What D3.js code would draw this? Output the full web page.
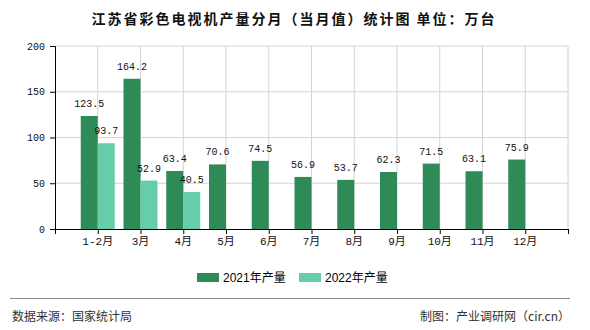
<!DOCTYPE html>
<html><head><meta charset="utf-8">
<script src="https://cdn.jsdelivr.net/npm/d3@7"></script>
<style>body{margin:0;background:#fff;}svg{display:block;}</style>
</head><body>
<svg id="c" width="590" height="330"></svg>
<script>
const categories = ["1-2月","3月","4月","5月","6月","7月","8月","9月","10月","11月","12月"];
const values2021 = [123.5,164.2,63.4,70.6,74.5,56.9,53.7,62.3,71.5,63.1,75.9];
const values2022 = [93.7,52.9,40.5,null,null,null,null,null,null,null,null];
const seriesNames = ["2021年产量","2022年产量"];
const yTicks = [0,50,100,150,200];
const titleText = "江苏省彩色电视机产量分月（当月值）统计图 单位：万台";
const sourceText = "数据来源：国家统计局";
const creditText = "制图：产业调研网（cir.cn）";

const colors = ["#2e8b57","#66cdaa"];
const svg = d3.select("#c");
const L=55,R=568,T=46,B=229;
const x = d3.scaleLinear().domain([0,categories.length+1]).range([L,R]);
const y = d3.scaleLinear().domain([0,200]).range([B,T]);
const bw = 17;
const monoFont = "'Liberation Mono','Noto Sans CJK SC',monospace";

svg.append("text").attr("x",294).attr("y",18).attr("text-anchor","middle").attr("dominant-baseline","central")
  .attr("font-family","'Noto Sans CJK SC',sans-serif").attr("font-size",14).attr("font-weight","bold")
  .attr("letter-spacing",2).attr("fill","#111").text(titleText);

// grid
const pos = d3.range(0,categories.length+2);
svg.append("g").selectAll("line").data(yTicks.filter(d=>d>0)).join("line")
  .attr("x1",L).attr("x2",R).attr("y1",d=>y(d)).attr("y2",d=>y(d)).attr("stroke","#d3d3d3").attr("stroke-width",1);
svg.append("g").selectAll("line").data(pos.slice(1)).join("line")
  .attr("x1",d=>x(d)).attr("x2",d=>x(d)).attr("y1",T).attr("y2",B).attr("stroke","#d3d3d3").attr("stroke-width",1);

// bars
const g = svg.append("g");
g.selectAll("rect.a").data(values2021).join("rect").attr("class","a")
  .attr("x",(d,i)=>x(i+1)-bw).attr("width",bw).attr("y",d=>y(d)).attr("height",d=>B-y(d)).attr("fill",colors[0]);
g.selectAll("rect.b").data(values2022.map((v,i)=>({v,i})).filter(d=>d.v!=null)).join("rect").attr("class","b")
  .attr("x",d=>x(d.i+1)).attr("width",bw).attr("y",d=>y(d.v)).attr("height",d=>B-y(d.v)).attr("fill",colors[1]);

// labels
g.selectAll("text.a").data(values2021).join("text").attr("class","a")
  .attr("x",(d,i)=>x(i+1)-bw/2).attr("y",d=>y(d)-9).attr("text-anchor","middle")
  .attr("font-family",monoFont).attr("font-size",10).attr("fill","#111").text(d=>d.toFixed(1));
g.selectAll("text.b").data(values2022.map((v,i)=>({v,i})).filter(d=>d.v!=null)).join("text").attr("class","b")
  .attr("x",d=>x(d.i+1)+bw/2).attr("y",d=>y(d.v)-9).attr("text-anchor","middle")
  .attr("font-family",monoFont).attr("font-size",10).attr("fill","#111").text(d=>d.v.toFixed(1));

// y axis
const ya = svg.append("g").attr("transform",`translate(${L},0)`)
  .call(d3.axisLeft(y).tickValues(yTicks).tickSize(5).tickPadding(5).tickFormat(d3.format("d")));
ya.select(".domain").attr("stroke","#000");
ya.selectAll(".tick line").attr("stroke","#000");
ya.selectAll("text").attr("font-family",monoFont).attr("font-size",10).attr("fill","#111");

// x axis
const xa = svg.append("g").attr("transform",`translate(0,${B})`)
  .call(d3.axisBottom(x).tickValues(pos).tickSize(5).tickFormat(""));
xa.select(".domain").attr("stroke","#000");
xa.selectAll(".tick line").attr("stroke","#000");
svg.append("g").selectAll("text").data(categories).join("text")
  .attr("x",(d,i)=>x(i+1)).attr("y",242).attr("text-anchor","middle").attr("dominant-baseline","central")
  .attr("font-family",monoFont).attr("font-size",11).attr("fill","#111").text(d=>d);

// legend
const lg = svg.append("g");
const lx=[197,299];
seriesNames.forEach((n,i)=>{
  lg.append("rect").attr("x",lx[i]).attr("y",273).attr("width",22).attr("height",9).attr("fill",colors[i]);
  lg.append("text").attr("x",lx[i]+26).attr("y",277.5).attr("dominant-baseline","central")
    .attr("font-family","'Liberation Sans','Noto Sans CJK SC',sans-serif").attr("font-size",12).attr("fill","#000").text(n);
});

// footer
svg.append("line").attr("x1",10).attr("x2",570).attr("y1",298.5).attr("y2",298.5).attr("stroke","#888").attr("stroke-width",1);
svg.append("text").attr("x",12).attr("y",315).attr("dominant-baseline","central")
  .attr("font-family","'Noto Sans CJK SC',sans-serif").attr("font-size",12).attr("fill","#333").text(sourceText);
svg.append("text").attr("x",570).attr("y",315).attr("text-anchor","end").attr("dominant-baseline","central")
  .attr("font-family","'Noto Sans CJK SC',sans-serif").attr("font-size",12).attr("fill","#333").text(creditText);
</script>
</body></html>
